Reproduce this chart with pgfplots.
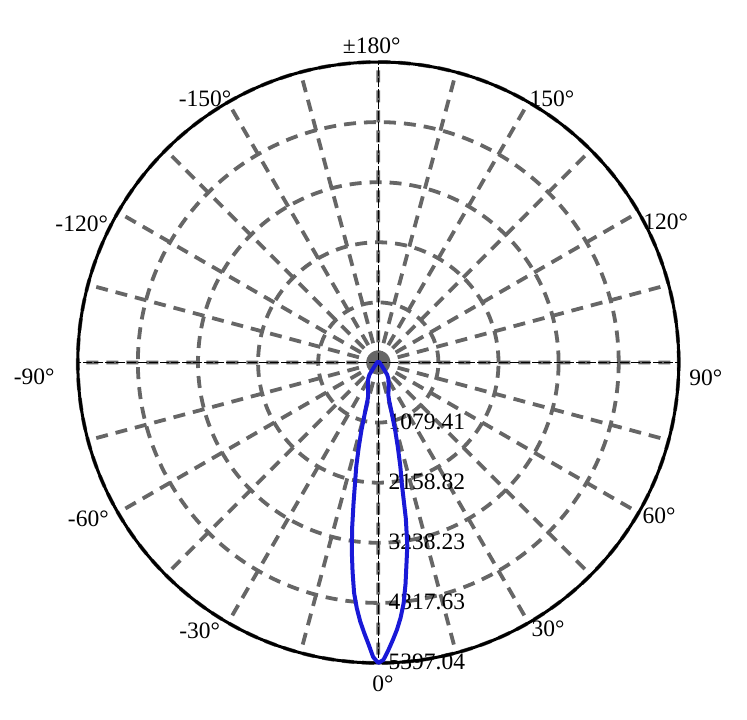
\documentclass[border=0pt]{standalone}
\usepackage{fontspec}
\setmainfont{Liberation Serif}
\usepackage{pgfplots}
\pgfplotsset{compat=1.18}
\usepgfplotslibrary{polar}
\definecolor{gridgray}{RGB}{102,102,102}
\definecolor{curveblue}{RGB}{25,25,215}
\begin{document}
\begin{tikzpicture}
\begin{polaraxis}[
  scale only axis, width=601bp, height=601bp,
  xmin=0, xmax=360, ymin=0, ymax=5397.04,
  xtick={0,15,...,345},
  xticklabels={},
  ytick={1079.41,2158.82,3238.23,4317.63,5397.04},
  yticklabels={},
  grid=major,
  major grid style={draw=gridgray, line width=3.8bp, dash pattern=on 12bp off 8bp},
  separate axis lines,
  x axis line style={black, line width=3bp},
  y axis line style={draw=none},
  major tick length=0pt,
  extra x ticks={0,90,180,270},
  extra x tick labels={},
  extra x tick style={major grid style={draw=black, line width=0.8bp, dash pattern=on 9bp off 2bp}},
  clip=false,
]
\coordinate (c) at (axis cs:0,0);
\tikzset{lb/.style={font=\fontsize{23.5bp}{28bp}\selectfont, inner sep=0pt}}
% angle labels
\node[lb, anchor=base] at ([shift={(-6.6bp,309.2bp)}]c) {±180°};
\node[lb, anchor=base] at ([shift={(-173.3bp,255.8bp)}]c) {-150°};
\node[lb, anchor=base] at ([shift={(173.7bp,255.8bp)}]c) {150°};
\node[lb, anchor=base] at ([shift={(-296.6bp,130.8bp)}]c) {-120°};
\node[lb, anchor=base] at ([shift={(287.5bp,132.5bp)}]c) {120°};
\node[lb, anchor=base] at ([shift={(-344.1bp,-21.5bp)}]c) {-90°};
\node[lb, anchor=base] at ([shift={(327.5bp,-22.5bp)}]c) {90°};
\node[lb, anchor=base] at ([shift={(-290bp,-164.2bp)}]c) {-60°};
\node[lb, anchor=base] at ([shift={(280.7bp,-160.8bp)}]c) {60°};
\node[lb, anchor=base] at ([shift={(-178.6bp,-275.8bp)}]c) {-30°};
\node[lb, anchor=base] at ([shift={(169.7bp,-274.2bp)}]c) {30°};
\node[lb, anchor=base] at ([shift={(4.7bp,-329.2bp)}]c) {0°};
% radial labels
\node[lb, anchor=base west] at ([shift={(10.2bp,-66.6bp)}]c) {1079.41};
\node[lb, anchor=base west] at ([shift={(10.2bp,-126.7bp)}]c) {2158.82};
\node[lb, anchor=base west] at ([shift={(10.2bp,-186.8bp)}]c) {3238.23};
\node[lb, anchor=base west] at ([shift={(10.2bp,-246.9bp)}]c) {4317.63};
\node[lb, anchor=base west] at ([shift={(10.2bp,-307bp)}]c) {5397.04};
\addplot[draw=curveblue, line width=4bp, line join=round, no markers]
  table[x expr=\thisrow{a}+270, y=r] {
a r
-180 8
-165 9
-150 10
-135 12
-120 15
-105 18
-90 22
-80 26
-70 32
-60 42
-50 65
-45 95
-40 150
-36 270
-32 340
-26 420
-22 500
-19 560
-17 620
-16 700
-15 900
-14 1250
-13 1560
-12 1900
-11 2180
-10 2560
-9 3000
-8 3420
-7 3790
-6 4160
-5 4430
-4 4660
-3 4860
-2 5060
-1 5290
0 5397.04
1 5340
2 5170
3 4990
4 4810
5 4600
6 4350
7 4010
8 3640
9 3330
10 2850
11 2210
12 1900
13 1560
14 1250
15 900
16 700
17 620
19 560
22 500
26 420
32 340
36 270
40 150
45 95
50 65
60 42
70 32
80 26
90 22
105 18
120 15
135 12
150 10
165 9
180 8
};
\end{polaraxis}
\pgfresetboundingbox
\path[use as bounding box] ([shift={(-378.3bp,-357.5bp)}]c) rectangle ([shift={(368.7bp,362.5bp)}]c);
\end{tikzpicture}
\end{document}
